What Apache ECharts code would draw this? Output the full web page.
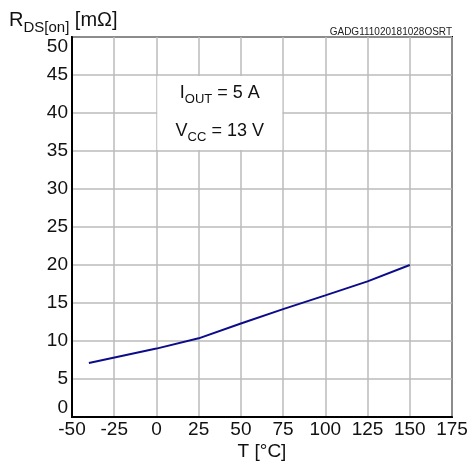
<!DOCTYPE html>
<html>
<head>
<meta charset="utf-8">
<script src="https://cdn.jsdelivr.net/npm/echarts@6/dist/echarts.min.js"></script>
<style>html,body{margin:0;padding:0;background:#fff;}#c{width:467px;height:461px;}</style>
</head>
<body>
<div id="c"></div>
<script>
var temps = [-40, 0, 25, 50, 75, 100, 125, 150];
var rds = [7.1, 9.0, 10.35, 12.3, 14.2, 16.0, 17.85, 20.0];
var xTicks = [-50, -25, 0, 25, 50, 75, 100, 125, 150, 175];
var yTicks = [0, 5, 10, 15, 20, 25, 30, 35, 40, 45, 50];
var noteBox = [[0, 35], [75, 45]];
var notes = [
  { x: 37.5, y: 42.4, main: 'I', sub: 'OUT', rest: ' = 5 A' },
  { x: 37.5, y: 37.4, main: 'V', sub: 'CC', rest: ' = 13 V' }
];
var docCode = 'GADG111020181028OSRT';

var FONT = 'Liberation Sans, Arial, sans-serif';
var chart = echarts.init(document.getElementById('c'));
var richSub = {
  m: { fontSize: 18, fontFamily: FONT, color: '#111', verticalAlign: 'bottom', padding: [0, 0, 4, 0] },
  s: { fontSize: 13, fontFamily: FONT, color: '#111', verticalAlign: 'bottom', padding: [0, 0, 0, 0] },
  r: { fontSize: 18, fontFamily: FONT, color: '#111', verticalAlign: 'bottom', padding: [0, 0, 4, 0] }
};
chart.setOption({
  animation: false,
  backgroundColor: '#fff',
  title: {
    text: '{m|R}{s|DS[on]}{r| [mΩ]}',
    left: 4, top: 5,
    textStyle: {
      fontWeight: 'normal',
      rich: {
        m: { fontSize: 20, fontWeight: 'normal', fontFamily: FONT, color: '#111', verticalAlign: 'bottom', padding: [0, 0, 5, 0] },
        s: { fontSize: 15, fontWeight: 'normal', fontFamily: FONT, color: '#111', verticalAlign: 'bottom' },
        r: { fontSize: 20, fontWeight: 'normal', fontFamily: FONT, color: '#111', verticalAlign: 'bottom', padding: [0, 0, 5, 0] }
      }
    }
  },
  graphic: [{
    type: 'text', right: 15, top: 27,
    style: { text: docCode, fontSize: 10, fontFamily: FONT, fill: '#222' }
  }],
  grid: { left: 72, right: 15, top: 37, bottom: 44, outerBoundsMode: 'none', containLabel: false, show: true, borderColor: '#000', borderWidth: 2, backgroundColor: 'transparent' },
  xAxis: {
    type: 'value', min: -50, max: 175, interval: 25,
    name: 'T [°C]', nameLocation: 'middle', nameGap: 25, nameMoveOverlap: false,
    nameTextStyle: { fontSize: 19, fontFamily: FONT, color: '#111', verticalAlign: 'top' },
    axisLine: { show: true, onZero: false, lineStyle: { color: '#000', width: 2 } },
    axisTick: { show: false },
    axisLabel: { fontSize: 19, fontFamily: FONT, color: '#111', margin: 3,
      formatter: function (v) { return xTicks.indexOf(v) >= 0 ? String(v) : ''; } },
    splitLine: { show: true, lineStyle: { color: '#bbbbbb', width: 1.5 } }
  },
  yAxis: {
    type: 'value', min: 0, max: 50, interval: 5,
    axisLine: { show: true, onZero: false, lineStyle: { color: '#000', width: 2 } },
    axisTick: { show: false },
    axisLabel: { fontSize: 19, fontFamily: FONT, color: '#111', margin: 4,
      verticalAlignMinLabel: 'bottom', verticalAlignMaxLabel: 'top',
      formatter: function (v) { return yTicks.indexOf(v) >= 0 ? String(v) : ''; } },
    splitLine: { show: true, lineStyle: { color: '#bbbbbb', width: 1.5 } }
  },
  series: [{
    type: 'line',
    data: temps.map(function (t, i) { return [t, rds[i]]; }),
    showSymbol: false,
    lineStyle: { color: '#0c0c8a', width: 2 },
    markArea: {
      silent: true,
      itemStyle: { color: '#fff', opacity: 1 },
      data: [[{ coord: [noteBox[0][0] + 0.5, noteBox[0][1] + 0.12] }, { coord: [noteBox[1][0] - 0.5, noteBox[1][1] - 0.12] }]]
    },
    markPoint: {
      silent: true,
      symbol: 'circle', symbolSize: 0,
      data: notes.map(function (n) {
        return {
          coord: [n.x, n.y],
          label: { show: true, position: 'inside', formatter: '{m|' + n.main + '}{s|' + n.sub + '}{r|' + n.rest + '}', rich: richSub }
        };
      })
    }
  }]
});
</script>
</body>
</html>
